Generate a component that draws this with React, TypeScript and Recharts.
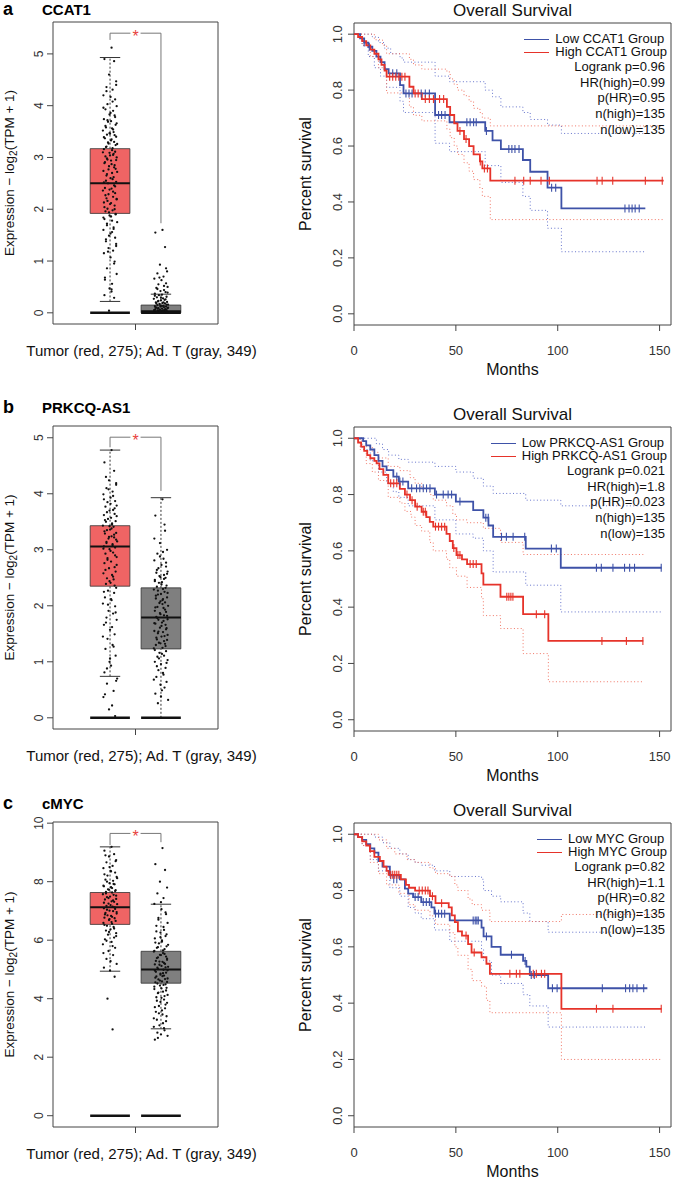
import React from 'react';
import {
  ComposedChart,
  Line,
  Scatter,
  XAxis,
  YAxis,
  ReferenceArea,
  ReferenceLine,
} from 'recharts';

type Pt = [number, number];

// box summaries: [lower whisker, Q1, median, Q3, upper whisker]
const ccat1TumorBox = [0.22, 1.92, 2.5, 3.17, 4.93];
const ccat1NormalBox = [0, 0, 0.03, 0.15, 0.36];
const prkTumorBox = [0.74, 2.35, 3.06, 3.43, 4.78];
const prkNormalBox = [0, 1.23, 1.79, 2.32, 3.93];
const mycTumorBox = [4.94, 6.54, 7.13, 7.63, 9.19];
const mycNormalBox = [2.97, 4.53, 5.0, 5.62, 7.23];

// significance bracket: [bar height, left leg end, right leg end]
const ccat1Bracket = [5.4, 5.27, 1.73];
const prkBracket = [5.01, 4.83, 4.05];
const mycBracket = [9.65, 9.25, 9.35];

const ccat1Ticks = [0, 1, 2, 3, 4, 5];
const prkTicks = [0, 1, 2, 3, 4, 5];
const mycTicks = [0, 2, 4, 6, 8, 10];

// horizontal spread of the jittered points (in group units)
const jitter = [
  0.03, -0.11, 0.08, -0.02, 0.12, -0.07, 0.05, -0.13, 0.01, 0.1, -0.05, 0.13, -0.09, 0.06, -0.01, 0.09,
  -0.12, 0.02, -0.04, 0.11, -0.08, 0.04, -0.14, 0.07, 0.0, -0.06, 0.12, -0.1, 0.03, 0.08, -0.03, 0.14,
  -0.07, 0.05, -0.12, 0.1, -0.01, 0.06, -0.09, 0.13, -0.05, 0.02, -0.11, 0.09, -0.02, 0.11, -0.13, 0.04,
  -0.06, 0.07, 0.01, -0.08, 0.12, -0.04, 0.08, -0.1, 0.03, -0.14, 0.1, -0.03, 0.06, -0.07, 0.13, -0.12,
  0.0, 0.09, -0.05, 0.05, -0.09, 0.11, -0.01, 0.02, -0.11, 0.14, -0.06, 0.07, -0.13, 0.04, -0.02, 0.1,
  -0.08, 0.12, -0.03, 0.06, -0.12, 0.01, 0.09, -0.06, 0.13, -0.1, 0.04, -0.01,
];

const ccat1TumorPts = [
  5.12, 4.9, 4.86, 4.6, 4.47, 4.36, 4.31, 4.2, 4.17, 4.12, 4.03, 3.99, 3.93, 3.9, 3.83, 3.81, 3.74, 3.7,
  3.69, 3.63, 3.58, 3.56, 3.52, 3.49, 3.46, 3.44, 3.4, 3.37, 3.35, 3.3, 3.27, 3.26, 3.21, 3.18, 3.16, 3.11,
  3.09, 3.05, 3.02, 3.0, 2.96, 2.94, 2.89, 2.85, 2.83, 2.78, 2.74, 2.7, 2.68, 2.62, 2.6, 2.55, 2.53, 2.5,
  2.46, 2.41, 2.4, 2.36, 2.31, 2.29, 2.24, 2.21, 2.19, 2.13, 2.1, 2.07, 2.01, 1.98, 1.96, 1.91, 1.88, 1.86,
  1.81, 1.75, 1.72, 1.65, 1.6, 1.56, 1.49, 1.45, 1.38, 1.29, 1.25, 1.2, 1.15, 1.07, 0.99, 0.86, 0.75, 0.64,
  0.56, 0.47, 0.41, 0.34, 0.29, 0.04, 4.4, 4.28, 4.08, 3.96, 3.86, 3.78, 3.72, 3.66, 3.61, 3.54, 3.47, 3.43,
  3.39, 3.33, 3.29, 3.24, 3.2, 3.14, 3.1, 3.07, 3.04, 2.98, 2.95, 2.91, 2.87, 2.81, 2.77, 2.72, 2.65, 2.58,
  2.52, 2.44, 2.38, 2.34, 2.27, 2.2, 2.16, 2.12, 2.04, 2.0, 1.94, 1.9, 1.84, 1.78, 1.69, 1.62, 1.53, 1.42,
  1.33, 1.18, 0.95, 0.68, 0.45,
];
const ccat1NormalPts = [
  1.6, 1.55, 1.27, 0.93, 0.8, 0.76, 0.7, 0.66, 0.63, 0.57, 0.55, 0.5, 0.48, 0.44, 0.42, 0.4, 0.37, 0.35,
  0.34, 0.31, 0.3, 0.28, 0.27, 0.25, 0.24, 0.22, 0.21, 0.2, 0.19, 0.18, 0.17, 0.16, 0.15, 0.14, 0.13, 0.12,
  0.12, 0.11, 0.1, 0.09, 0.09, 0.08, 0.07, 0.07, 0.06, 0.05, 0.05, 0.04, 0.04, 0.03, 0.03, 0.02, 0.02, 0.01,
  0.01, 0.01, 0.0, 0.0, 0.86, 0.68, 0.52, 0.46, 0.39, 0.33, 0.29, 0.26, 0.23, 0.2, 0.18, 0.16, 0.14, 0.13,
  0.11, 0.1, 0.08, 0.06, 0.05, 0.04, 0.03, 0.02, 0.02, 0.01,
];
const prkTumorPts = [
  4.78, 4.56, 4.41, 4.24, 4.16, 4.1, 4.04, 3.99, 3.93, 3.87, 3.85, 3.79, 3.77, 3.71, 3.7, 3.64, 3.62, 3.57,
  3.55, 3.51, 3.5, 3.45, 3.43, 3.41, 3.36, 3.35, 3.3, 3.29, 3.24, 3.22, 3.2, 3.15, 3.14, 3.1, 3.06, 3.04,
  3.01, 2.95, 2.93, 2.87, 2.85, 2.79, 2.76, 2.69, 2.67, 2.61, 2.58, 2.55, 2.49, 2.47, 2.41, 2.39, 2.32,
  2.27, 2.23, 2.15, 2.1, 2.04, 1.99, 1.91, 1.86, 1.79, 1.75, 1.66, 1.57, 1.49, 1.41, 1.3, 1.23, 1.11, 1.0,
  0.93, 0.81, 0.7, 0.61, 0.48, 0.37, 0.22, 0.15, 0.03, 4.3, 4.19, 4.08, 3.96, 3.9, 3.82, 3.74, 3.67, 3.6,
  3.53, 3.47, 3.42, 3.38, 3.33, 3.27, 3.23, 3.18, 3.12, 3.08, 3.02, 2.98, 2.9, 2.82, 2.73, 2.64, 2.52, 2.44,
  2.36, 2.25, 2.12, 2.02, 1.88, 1.7, 1.62, 1.45, 1.27, 1.06, 0.88, 0.66, 0.42,
];
const prkNormalPts = [
  3.9, 3.61, 3.34, 3.12, 3.0, 2.93, 2.84, 2.81, 2.73, 2.7, 2.67, 2.61, 2.59, 2.55, 2.51, 2.5, 2.46, 2.42,
  2.41, 2.36, 2.34, 2.3, 2.29, 2.25, 2.21, 2.2, 2.15, 2.13, 2.1, 2.06, 2.05, 2.0, 1.98, 1.96, 1.91, 1.89,
  1.85, 1.83, 1.8, 1.76, 1.75, 1.7, 1.68, 1.66, 1.61, 1.6, 1.55, 1.53, 1.51, 1.46, 1.45, 1.4, 1.39, 1.34,
  1.32, 1.3, 1.25, 1.24, 1.19, 1.16, 1.11, 1.09, 1.03, 1.0, 0.96, 0.89, 0.85, 0.77, 0.73, 0.64, 0.59, 0.49,
  0.43, 0.32, 0.26, 3.45, 3.2, 2.96, 2.88, 2.77, 2.64, 2.57, 2.53, 2.48, 2.44, 2.38, 2.32, 2.27, 2.23, 2.18,
  2.12, 2.08, 2.03, 1.97, 1.93, 1.87, 1.82, 1.78, 1.73, 1.69, 1.64, 1.58, 1.54, 1.48, 1.43, 1.37, 1.33,
  1.28, 1.21, 1.14, 1.06, 0.98, 0.92, 0.8, 0.68, 0.54, 0.38,
];
const mycTumorPts = [
  9.19, 9.06, 8.94, 8.86, 8.74, 8.66, 8.54, 8.46, 8.37, 8.31, 8.21, 8.16, 8.07, 8.03, 7.95, 7.91, 7.84,
  7.81, 7.74, 7.71, 7.65, 7.63, 7.57, 7.55, 7.49, 7.47, 7.41, 7.39, 7.33, 7.31, 7.25, 7.23, 7.17, 7.15,
  7.09, 7.07, 7.01, 6.99, 6.93, 6.91, 6.85, 6.83, 6.77, 6.75, 6.69, 6.66, 6.59, 6.56, 6.49, 6.45, 6.37,
  6.33, 6.24, 6.19, 6.09, 6.03, 5.94, 5.86, 5.74, 5.63, 5.49, 5.36, 5.19, 5.06, 4.96, 4.75, 4.0, 2.95, 8.9,
  8.7, 8.5, 8.35, 8.25, 8.12, 8.0, 7.92, 7.86, 7.78, 7.72, 7.68, 7.6, 7.52, 7.44, 7.36, 7.28, 7.2, 7.12,
  7.04, 6.96, 6.88, 6.8, 6.72, 6.62, 6.52, 6.4, 6.28, 6.14, 5.98, 5.8, 5.56, 5.28,
];
const mycNormalPts = [
  9.15, 8.6, 8.4, 8.0, 7.8, 7.6, 7.44, 7.24, 7.06, 6.89, 6.76, 6.59, 6.49, 6.35, 6.26, 6.14, 6.06, 5.95,
  5.89, 5.79, 5.74, 5.65, 5.61, 5.53, 5.49, 5.41, 5.37, 5.29, 5.26, 5.19, 5.16, 5.09, 5.06, 4.99, 4.96,
  4.89, 4.86, 4.79, 4.76, 4.69, 4.66, 4.59, 4.56, 4.49, 4.45, 4.37, 4.33, 4.24, 4.19, 4.09, 4.03, 3.93,
  3.86, 3.75, 3.67, 3.55, 3.46, 3.33, 3.23, 3.09, 2.99, 2.84, 2.73, 2.6, 7.3, 6.95, 6.7, 6.45, 6.3, 6.2,
  6.1, 5.99, 5.92, 5.84, 5.76, 5.69, 5.63, 5.56, 5.5, 5.44, 5.39, 5.33, 5.27, 5.22, 5.17, 5.12, 5.07, 5.02,
  4.97, 4.92, 4.87, 4.82, 4.77, 4.72, 4.67, 4.62, 4.57, 4.52, 4.47, 4.41, 4.35, 4.28, 4.21, 4.13, 4.05,
  3.97, 3.89, 3.8, 3.71, 3.6, 3.5, 3.4, 3.28, 3.16, 3.04, 2.92, 2.78, 2.66,
];

// Kaplan-Meier curves: [months, survival]
const ccat1LowSurv: Pt[] = [[0, 1], [3, 0.985], [5, 0.97], [7, 0.955], [9, 0.94], [11, 0.92], [13, 0.9], [15, 0.875], [17, 0.86], [22.6, 0.818], [24.3, 0.788], [39.8, 0.711], [46.9, 0.685], [64.4, 0.654], [68, 0.62], [72.1, 0.589], [82.9, 0.55], [86.5, 0.508], [95, 0.451], [101.8, 0.377], [143, 0.377]];
const ccat1HighSurv: Pt[] = [[0, 1], [2, 0.99], [4, 0.975], [6, 0.96], [8, 0.945], [10, 0.93], [12, 0.91], [13.5, 0.89], [15, 0.87], [16, 0.848], [27.2, 0.812], [29.2, 0.788], [33.3, 0.768], [45.6, 0.74], [47.2, 0.711], [49.2, 0.681], [50.8, 0.654], [54, 0.625], [56.5, 0.6], [58.7, 0.57], [61.8, 0.545], [63, 0.52], [66.9, 0.476], [152, 0.476]];
const ccat1LowUpper: Pt[] = [[0, 1], [6, 1], [9, 0.99], [12, 0.97], [15, 0.95], [18, 0.93], [22.6, 0.915], [24.3, 0.9], [39.8, 0.85], [46.9, 0.83], [64.4, 0.8], [68, 0.776], [72.1, 0.74], [82.9, 0.72], [86.5, 0.695], [95, 0.675], [101.8, 0.645], [143, 0.645]];
const ccat1LowLower: Pt[] = [[0, 1], [4, 0.96], [7, 0.92], [10, 0.88], [13, 0.85], [16, 0.81], [22.6, 0.76], [24.3, 0.72], [39.8, 0.61], [46.9, 0.58], [64.4, 0.53], [72.1, 0.47], [82.9, 0.42], [86.5, 0.37], [95, 0.306], [101.8, 0.222], [143, 0.222]];
const ccat1HighUpper: Pt[] = [[0, 1], [6, 1], [10, 0.98], [14, 0.96], [16, 0.93], [27.2, 0.91], [29.2, 0.89], [33.3, 0.875], [45.6, 0.865], [47.2, 0.84], [49.2, 0.82], [50.8, 0.8], [54, 0.78], [56.5, 0.76], [58.7, 0.735], [61.8, 0.72], [63, 0.7], [66.9, 0.672], [152, 0.672]];
const ccat1HighLower: Pt[] = [[0, 1], [4, 0.96], [8, 0.92], [12, 0.88], [16, 0.79], [27.2, 0.74], [29.2, 0.71], [33.3, 0.69], [45.6, 0.66], [47.2, 0.63], [49.2, 0.6], [50.8, 0.57], [54, 0.54], [56.5, 0.51], [58.7, 0.48], [61.8, 0.45], [63, 0.42], [66.9, 0.337], [152, 0.337]];
const ccat1LowCens: Pt[] = [[5, 0.97], [7.5, 0.955], [19, 0.86], [21, 0.86], [25.5, 0.788], [27, 0.788], [28.5, 0.788], [33, 0.788], [35, 0.788], [37, 0.788], [41.5, 0.711], [43, 0.711], [44.7, 0.711], [55.4, 0.685], [57, 0.685], [58.7, 0.685], [60, 0.685], [65, 0.654], [76, 0.589], [77.5, 0.589], [79, 0.589], [81, 0.589], [97, 0.451], [99, 0.451], [133, 0.377], [135, 0.377], [136.5, 0.377], [138, 0.377], [140, 0.377]];
const ccat1HighCens: Pt[] = [[17.5, 0.848], [19, 0.848], [20.5, 0.848], [22, 0.848], [23.5, 0.848], [25, 0.848], [30, 0.788], [31.5, 0.788], [35, 0.768], [37, 0.768], [39, 0.768], [42, 0.768], [44, 0.768], [52, 0.654], [55, 0.625], [62, 0.545], [64, 0.52], [65.5, 0.52], [79, 0.476], [83.3, 0.476], [86.5, 0.476], [91.8, 0.476], [95.9, 0.476], [119.3, 0.476], [121.8, 0.476], [127, 0.476], [143, 0.476], [151.3, 0.476]];

const prkLowSurv: Pt[] = [[0, 1], [4.5, 0.99], [6, 0.975], [8, 0.96], [10, 0.94], [12, 0.92], [14, 0.9], [16, 0.887], [19.3, 0.864], [22, 0.846], [26.6, 0.822], [39.7, 0.8], [50, 0.775], [58.5, 0.745], [63.5, 0.718], [66, 0.69], [68.3, 0.65], [84.3, 0.608], [101.5, 0.54], [151, 0.54]];
const prkHighSurv: Pt[] = [[0, 1], [2, 0.985], [3.5, 0.97], [5, 0.955], [6.5, 0.94], [8, 0.929], [10, 0.92], [11.1, 0.911], [12.5, 0.89], [14.4, 0.87], [16.8, 0.84], [22.5, 0.82], [25, 0.8], [27.5, 0.78], [30, 0.757], [33.2, 0.739], [35.5, 0.72], [37.2, 0.703], [38.9, 0.686], [45.4, 0.66], [47, 0.635], [48.5, 0.61], [50.3, 0.585], [53, 0.57], [55.5, 0.553], [62.6, 0.52], [63.5, 0.48], [71.9, 0.437], [83, 0.375], [95.4, 0.28], [142, 0.28]];
const prkLowUpper: Pt[] = [[0, 1], [8, 1], [11, 0.98], [14, 0.96], [17, 0.94], [22, 0.925], [26.6, 0.915], [39.7, 0.9], [50, 0.88], [58.5, 0.858], [63.5, 0.83], [68.3, 0.804], [84.3, 0.78], [101.5, 0.76], [143, 0.76]];
const prkLowLower: Pt[] = [[0, 1], [4, 0.96], [8, 0.92], [12, 0.88], [16, 0.84], [19.3, 0.81], [22, 0.79], [26.6, 0.76], [39.7, 0.71], [50, 0.66], [58.5, 0.645], [63.5, 0.6], [68.3, 0.525], [84.3, 0.478], [101.5, 0.383], [151, 0.383]];
const prkHighUpper: Pt[] = [[0, 1], [4, 0.99], [6, 0.97], [9, 0.95], [12, 0.93], [16.8, 0.9], [22.5, 0.885], [27.5, 0.86], [30, 0.84], [33.2, 0.82], [37.2, 0.8], [38.9, 0.78], [45.4, 0.76], [48.5, 0.73], [50.3, 0.71], [55.5, 0.7], [63.5, 0.68], [71.9, 0.63], [83, 0.587], [142, 0.587]];
const prkHighLower: Pt[] = [[0, 1], [3, 0.96], [6, 0.91], [9, 0.88], [12, 0.85], [16.8, 0.79], [22.5, 0.77], [25, 0.74], [28, 0.72], [30, 0.69], [33.2, 0.67], [37.2, 0.63], [38.9, 0.6], [45.4, 0.57], [47, 0.54], [50.3, 0.51], [55.5, 0.47], [62.6, 0.43], [63.5, 0.37], [71.9, 0.324], [83, 0.235], [95.4, 0.135], [142, 0.135]];
const prkLowCens: Pt[] = [[21, 0.864], [22.5, 0.846], [24, 0.846], [28.3, 0.822], [30.7, 0.822], [32.3, 0.822], [34, 0.822], [35.6, 0.822], [37.3, 0.822], [40.5, 0.8], [43.8, 0.8], [46.2, 0.8], [47.9, 0.8], [52, 0.775], [64.7, 0.718], [65.9, 0.718], [72.4, 0.65], [74.8, 0.65], [78.1, 0.65], [83.8, 0.65], [96.9, 0.608], [99.3, 0.608], [119, 0.54], [121.4, 0.54], [127.1, 0.54], [132.8, 0.54], [135.3, 0.54], [137.7, 0.54], [150.8, 0.54]];
const prkHighCens: Pt[] = [[18, 0.84], [19.5, 0.84], [21, 0.84], [26, 0.8], [28.5, 0.78], [31, 0.757], [34, 0.739], [35, 0.739], [40, 0.686], [41.5, 0.686], [43, 0.686], [44.5, 0.686], [49, 0.61], [51, 0.585], [52, 0.585], [57, 0.553], [58.5, 0.553], [60, 0.553], [75, 0.437], [76, 0.437], [77, 0.437], [78, 0.437], [89.5, 0.375], [93.6, 0.375], [121.7, 0.28], [133.7, 0.28], [141.8, 0.28]];

const mycLowSurv: Pt[] = [[0, 1], [2, 0.99], [4, 0.98], [6, 0.965], [8, 0.95], [10, 0.935], [12, 0.905], [14, 0.885], [17.6, 0.854], [22.5, 0.84], [25, 0.807], [26.6, 0.789], [29, 0.777], [33, 0.759], [38, 0.74], [39.5, 0.718], [47, 0.694], [62.6, 0.668], [63.6, 0.637], [67.5, 0.6], [72, 0.572], [83, 0.55], [84.6, 0.53], [86.3, 0.5], [95.3, 0.453], [144, 0.453]];
const mycHighSurv: Pt[] = [[0, 1], [2, 0.99], [4, 0.975], [6, 0.96], [7.8, 0.94], [10, 0.92], [12.7, 0.905], [14.5, 0.885], [16, 0.87], [17, 0.856], [23, 0.84], [25.5, 0.82], [27, 0.81], [30, 0.8], [37.3, 0.78], [40, 0.755], [46.5, 0.74], [48, 0.712], [49.5, 0.688], [51, 0.655], [53, 0.64], [56, 0.61], [57.7, 0.58], [62.6, 0.563], [65, 0.54], [66.7, 0.504], [101.8, 0.38], [151, 0.38]];
const mycLowUpper: Pt[] = [[0, 1], [6, 1], [10, 0.99], [14, 0.97], [17.6, 0.95], [22.5, 0.93], [26.6, 0.91], [30, 0.9], [33, 0.89], [39.5, 0.87], [47, 0.85], [62.6, 0.84], [63.6, 0.8], [67.5, 0.78], [72, 0.76], [83, 0.72], [86.3, 0.69], [95.3, 0.652], [144, 0.652]];
const mycLowLower: Pt[] = [[0, 1], [4, 0.96], [8, 0.91], [12, 0.87], [17.6, 0.81], [22.5, 0.78], [26.6, 0.74], [30, 0.72], [33, 0.7], [39.5, 0.66], [47, 0.62], [62.6, 0.59], [63.6, 0.55], [67.5, 0.5], [72, 0.47], [83, 0.43], [86.3, 0.39], [95.3, 0.315], [144, 0.315]];
const mycHighUpper: Pt[] = [[0, 1], [8, 1], [12, 0.98], [16, 0.95], [20, 0.93], [26, 0.91], [30, 0.9], [37.3, 0.88], [40, 0.86], [47, 0.85], [49.5, 0.82], [51, 0.8], [56, 0.77], [58, 0.75], [62.6, 0.73], [66.7, 0.69], [101.8, 0.715], [151, 0.715]];
const mycHighLower: Pt[] = [[0, 1], [4, 0.96], [8, 0.9], [12, 0.86], [16, 0.82], [22, 0.79], [27, 0.75], [30, 0.73], [37.3, 0.71], [40, 0.68], [47, 0.65], [49.5, 0.6], [51, 0.57], [56, 0.52], [58, 0.48], [62.6, 0.46], [65, 0.41], [66.7, 0.366], [101.8, 0.2], [151, 0.2]];
const mycLowCens: Pt[] = [[18, 0.854], [19.5, 0.84], [21, 0.84], [30, 0.777], [31.5, 0.777], [34, 0.759], [35.5, 0.759], [37, 0.759], [40, 0.718], [41.5, 0.718], [43, 0.718], [44.5, 0.718], [58.5, 0.694], [59.5, 0.694], [60.3, 0.694], [61, 0.694], [65, 0.637], [77.3, 0.572], [84, 0.55], [87, 0.5], [88.5, 0.5], [97.4, 0.453], [99.7, 0.453], [121.9, 0.453], [133.3, 0.453], [135.3, 0.453], [136.9, 0.453], [138.9, 0.453], [142.2, 0.453]];
const mycHighCens: Pt[] = [[18, 0.856], [19, 0.856], [20, 0.856], [21, 0.856], [22, 0.856], [32, 0.8], [33.5, 0.8], [35, 0.8], [36.3, 0.8], [38.5, 0.78], [43, 0.755], [55, 0.64], [59, 0.58], [76.5, 0.504], [79.7, 0.504], [81.4, 0.504], [88, 0.504], [89.5, 0.504], [92, 0.504], [93.6, 0.504], [119, 0.38], [127.1, 0.38], [150.8, 0.38]];

const ccat1Stats = ['Logrank p=0.96', 'HR(high)=0.99', 'p(HR)=0.95', 'n(high)=135', 'n(low)=135'];
const prkStats = ['Logrank p=0.021', 'HR(high)=1.8', 'p(HR)=0.023', 'n(high)=135', 'n(low)=135'];
const mycStats = ['Logrank p=0.82', 'HR(high)=1.1', 'p(HR)=0.82', 'n(high)=135', 'n(low)=135'];

const BLUE = '#3e52a8';
const RED = '#e6332a';
const BLUE_CI = '#6674cc';
const RED_CI = '#f07666';
const TUMOR_FILL = '#f06464';
const NORMAL_FILL = '#7f7f7f';

const X_MIN = -0.12;
const X_MAX = 3.12;
const KM_X = [0, 155.6];
const KM_Y = [-0.04, 1.04];

const toXY = (ys: number[], cx: number) => ys.map((y, i) => ({ x: cx + jitter[i % jitter.length], y }));
const rows = (pts: Pt[]) => pts.map(([t, s]) => ({ t, s }));

const VTick = (props: any) => {
  const { x, y, payload, size, digits } = props;
  return (
    <text x={x} y={y} transform={`rotate(-90 ${x} ${y})`} textAnchor="middle" fontSize={size} fill="#333">
      {Number(payload.value).toFixed(digits)}
    </text>
  );
};

const BoxYLabel = (props: any) => {
  const vb = props.viewBox;
  const x = vb.x + 14;
  const y = vb.y + vb.height / 2;
  return (
    <text x={x} y={y} transform={`rotate(-90 ${x} ${y})`} textAnchor="middle" fontSize={13.5} fill="#111">
      Expression − log<tspan dy={3} fontSize={10}>2</tspan>
      <tspan dy={-3}>(TPM + 1)</tspan>
    </text>
  );
};

const BoxXLabel = (props: any) => {
  const vb = props.viewBox;
  return (
    <text x={vb.x + vb.width / 2 + 6} y={vb.y + 32} textAnchor="middle" fontSize={15} fill="#111">
      Tumor (red, 275); Ad. T (gray, 349)
    </text>
  );
};

const KMYLabel = (props: any) => {
  const vb = props.viewBox;
  const x = vb.x + 21;
  const y = vb.y + vb.height / 2;
  return (
    <text x={x} y={y} transform={`rotate(-90 ${x} ${y})`} textAnchor="middle" fontSize={16} fill="#111">
      Percent survival
    </text>
  );
};

const KMXLabel = (props: any) => {
  const vb = props.viewBox;
  return (
    <text x={vb.x + vb.width / 2} y={vb.y + 50} textAnchor="middle" fontSize={16} fill="#111">
      Months
    </text>
  );
};

const dot = (p: any) => <circle cx={p.cx} cy={p.cy} r={1.15} fill="#111" />;
const star = (p: any) => (
  <text x={p.cx} y={p.cy + 9} textAnchor="middle" fontSize={16} fill="#e8413c">
    *
  </text>
);
const censor = (color: string) => (p: any) => (
  <line x1={p.cx} x2={p.cx} y1={p.cy - 4} y2={p.cy + 4} stroke={color} strokeWidth={1.1} />
);

function boxParts(cx: number, b: number[], fill: string, key: string) {
  const hw = 0.39;
  const cw = 0.2;
  return [
    <ReferenceLine key={key + 'wl'} segment={[{ x: cx, y: b[0] }, { x: cx, y: b[1] }]} stroke="#333" strokeDasharray="2 2" />,
    <ReferenceLine key={key + 'wh'} segment={[{ x: cx, y: b[3] }, { x: cx, y: b[4] }]} stroke="#333" strokeDasharray="2 2" />,
    <ReferenceLine key={key + 'cl'} segment={[{ x: cx - cw, y: b[0] }, { x: cx + cw, y: b[0] }]} stroke="#333" />,
    <ReferenceLine key={key + 'ch'} segment={[{ x: cx - cw, y: b[4] }, { x: cx + cw, y: b[4] }]} stroke="#333" />,
    <ReferenceArea key={key + 'bx'} x1={cx - hw} x2={cx + hw} y1={b[1]} y2={b[3]} fill={fill} fillOpacity={1} stroke="#333" strokeWidth={0.8} />,
    <ReferenceLine key={key + 'md'} segment={[{ x: cx - hw, y: b[2] }, { x: cx + hw, y: b[2] }]} stroke="#111" strokeWidth={2} />,
    <ReferenceLine key={key + 'z'} segment={[{ x: cx - hw, y: 0 }, { x: cx + hw, y: 0 }]} stroke="#111" strokeWidth={2.6} />,
  ];
}

type BoxProps = {
  letter: string;
  gene: string;
  headBase: number;
  plotTop: number;
  plotH: number;
  domain: number[];
  ticks: number[];
  tumorBox: number[];
  normalBox: number[];
  tumorPts: number[];
  normalPts: number[];
  bracket: number[];
};

function BoxPanel(p: BoxProps) {
  const H = 22 + p.plotH + 46;
  const [by, bl, br] = p.bracket;
  return (
    <>
      <div style={{ position: 'absolute', left: 3, top: Math.max(0, p.headBase - 15.2), fontSize: 18, lineHeight: '18px', fontWeight: 700 }}>
        {p.letter}
      </div>
      <div style={{ position: 'absolute', left: 42, top: Math.max(1, p.headBase - 12.7), fontSize: 15, lineHeight: '15px', fontWeight: 700 }}>
        {p.gene}
      </div>
      <div style={{ position: 'absolute', left: 0, top: p.plotTop - 22 }}>
        <ComposedChart width={290} height={H} margin={{ top: 22, right: 72, bottom: 0, left: 0 }}>
          <XAxis
            type="number"
            dataKey="x"
            domain={[X_MIN, X_MAX]}
            ticks={[1.5]}
            interval={0}
            tickFormatter={() => ''}
            axisLine={false}
            tickLine={{ stroke: '#444' }}
            tickSize={6}
            height={46}
            allowDataOverflow
            label={<BoxXLabel />}
          />
          <YAxis
            type="number"
            dataKey="y"
            domain={p.domain}
            ticks={p.ticks}
            interval={0}
            axisLine={false}
            tickLine={{ stroke: '#444' }}
            tickSize={6}
            tickMargin={3.5}
            width={53}
            allowDataOverflow
            tick={<VTick size={12} digits={0} />}
            label={<BoxYLabel />}
          />
          <ReferenceArea x1={X_MIN} x2={X_MAX} y1={p.domain[0]} y2={p.domain[1]} fill="none" stroke="#444" strokeWidth={1} />
          {boxParts(1, p.tumorBox, TUMOR_FILL, 't')}
          {boxParts(2, p.normalBox, NORMAL_FILL, 'n')}
          <ReferenceLine segment={[{ x: 1, y: bl }, { x: 1, y: by }]} stroke="#777" />
          <ReferenceLine segment={[{ x: 1, y: by }, { x: 1.4, y: by }]} stroke="#777" />
          <ReferenceLine segment={[{ x: 1.6, y: by }, { x: 2, y: by }]} stroke="#777" />
          <ReferenceLine segment={[{ x: 2, y: by }, { x: 2, y: br }]} stroke="#777" />
          <Scatter data={toXY(p.tumorPts, 1)} dataKey="y" shape={dot} isAnimationActive={false} />
          <Scatter data={toXY(p.normalPts, 2)} dataKey="y" shape={dot} isAnimationActive={false} />
          <Scatter data={[{ x: 1.5, y: by }]} dataKey="y" shape={star} isAnimationActive={false} />
        </ComposedChart>
      </div>
    </>
  );
}

type KMProps = {
  plotTop: number;
  plotH: number;
  low: Pt[];
  high: Pt[];
  lowUp: Pt[];
  lowLo: Pt[];
  highUp: Pt[];
  highLo: Pt[];
  lowCens: Pt[];
  highCens: Pt[];
  lowName: string;
  highName: string;
  stats: string[];
};

function KMPanel(p: KMProps) {
  const H = 23 + p.plotH + 60;
  const ci = (pts: Pt[], color: string) => (
    <Line data={rows(pts)} dataKey="s" type="stepAfter" stroke={color} strokeWidth={1} strokeDasharray="1 2.4" dot={false} isAnimationActive={false} />
  );
  const seg = (color: string) => (
    <span style={{ display: 'inline-block', width: 25, height: 0, borderTop: `1.8px solid ${color}`, marginRight: 6, verticalAlign: 'middle' }} />
  );
  return (
    <>
      <div style={{ position: 'absolute', left: 354, width: 317, top: p.plotTop - 6 - 15, fontSize: 17, lineHeight: '17px', textAlign: 'center', color: '#111' }}>
        Overall Survival
      </div>
      <div style={{ position: 'absolute', left: 290, top: p.plotTop - 23 }}>
        <ComposedChart width={385} height={H} margin={{ top: 23, right: 4, bottom: 0, left: 0 }}>
          <XAxis
            type="number"
            dataKey="t"
            domain={KM_X}
            ticks={[0, 50, 100, 150]}
            interval={0}
            axisLine={false}
            tickLine={{ stroke: '#444' }}
            tickSize={6}
            tickMargin={15}
            height={60}
            tick={{ fontSize: 13, fill: '#333' }}
            allowDataOverflow
            label={<KMXLabel />}
          />
          <YAxis
            type="number"
            dataKey="s"
            domain={KM_Y}
            ticks={[0, 0.2, 0.4, 0.6, 0.8, 1]}
            interval={0}
            axisLine={false}
            tickLine={{ stroke: '#444' }}
            tickSize={6}
            tickMargin={6}
            width={64}
            allowDataOverflow
            tick={<VTick size={13} digits={1} />}
            label={<KMYLabel />}
          />
          <ReferenceArea x1={KM_X[0]} x2={KM_X[1]} y1={KM_Y[0]} y2={KM_Y[1]} fill="none" stroke="#444" strokeWidth={1} />
          {ci(p.lowUp, BLUE_CI)}
          {ci(p.lowLo, BLUE_CI)}
          {ci(p.highUp, RED_CI)}
          {ci(p.highLo, RED_CI)}
          <Line data={rows(p.low)} dataKey="s" type="stepAfter" stroke={BLUE} strokeWidth={1.8} dot={false} isAnimationActive={false} />
          <Line data={rows(p.high)} dataKey="s" type="stepAfter" stroke={RED} strokeWidth={1.8} dot={false} isAnimationActive={false} />
          <Scatter data={rows(p.lowCens)} dataKey="s" shape={censor(BLUE)} isAnimationActive={false} />
          <Scatter data={rows(p.highCens)} dataKey="s" shape={censor(RED)} isAnimationActive={false} />
        </ComposedChart>
      </div>
      <div style={{ position: 'absolute', right: 8, top: p.plotTop + 8.8, fontSize: 13, lineHeight: '13px', color: '#111', whiteSpace: 'nowrap' }}>
        <div>{seg(BLUE)}{p.lowName}</div>
        <div>{seg(RED)}{p.highName}</div>
      </div>
      <div style={{ position: 'absolute', right: 10, top: p.plotTop + 35.9, fontSize: 13, lineHeight: '15.65px', color: '#111', textAlign: 'right', whiteSpace: 'nowrap' }}>
        {p.stats.map((s) => (
          <div key={s}>{s}</div>
        ))}
      </div>
    </>
  );
}

export default function App() {
  return (
    <div
      style={{
        position: 'absolute',
        left: 0,
        top: 0,
        width: 675,
        height: 1180,
        background: '#fff',
        overflow: 'hidden',
        fontFamily: '"Liberation Sans", Arial, sans-serif',
      }}
    >
      <BoxPanel letter="a" gene="CCAT1" headBase={15} plotTop={22} plotH={302} domain={[-0.216, 5.616]} ticks={ccat1Ticks}
        tumorBox={ccat1TumorBox} normalBox={ccat1NormalBox} tumorPts={ccat1TumorPts} normalPts={ccat1NormalPts} bracket={ccat1Bracket} />
      <BoxPanel letter="b" gene="PRKCQ-AS1" headBase={413} plotTop={426} plotH={303} domain={[-0.2, 5.21]} ticks={prkTicks}
        tumorBox={prkTumorBox} normalBox={prkNormalBox} tumorPts={prkTumorPts} normalPts={prkNormalPts} bracket={prkBracket} />
      <BoxPanel letter="c" gene="cMYC" headBase={809} plotTop={822} plotH={305} domain={[-0.386, 10.04]} ticks={mycTicks}
        tumorBox={mycTumorBox} normalBox={mycNormalBox} tumorPts={mycTumorPts} normalPts={mycNormalPts} bracket={mycBracket} />

      <KMPanel plotTop={23} plotH={302} low={ccat1LowSurv} high={ccat1HighSurv} lowUp={ccat1LowUpper} lowLo={ccat1LowLower}
        highUp={ccat1HighUpper} highLo={ccat1HighLower} lowCens={ccat1LowCens} highCens={ccat1HighCens}
        lowName="Low CCAT1 Group" highName="High CCAT1 Group" stats={ccat1Stats} />
      <KMPanel plotTop={427} plotH={304} low={prkLowSurv} high={prkHighSurv} lowUp={prkLowUpper} lowLo={prkLowLower}
        highUp={prkHighUpper} highLo={prkHighLower} lowCens={prkLowCens} highCens={prkHighCens}
        lowName="Low PRKCQ-AS1 Group" highName="High PRKCQ-AS1 Group" stats={prkStats} />
      <KMPanel plotTop={823} plotH={304} low={mycLowSurv} high={mycHighSurv} lowUp={mycLowUpper} lowLo={mycLowLower}
        highUp={mycHighUpper} highLo={mycHighLower} lowCens={mycLowCens} highCens={mycHighCens}
        lowName="Low MYC Group" highName="High MYC Group" stats={mycStats} />
    </div>
  );
}
